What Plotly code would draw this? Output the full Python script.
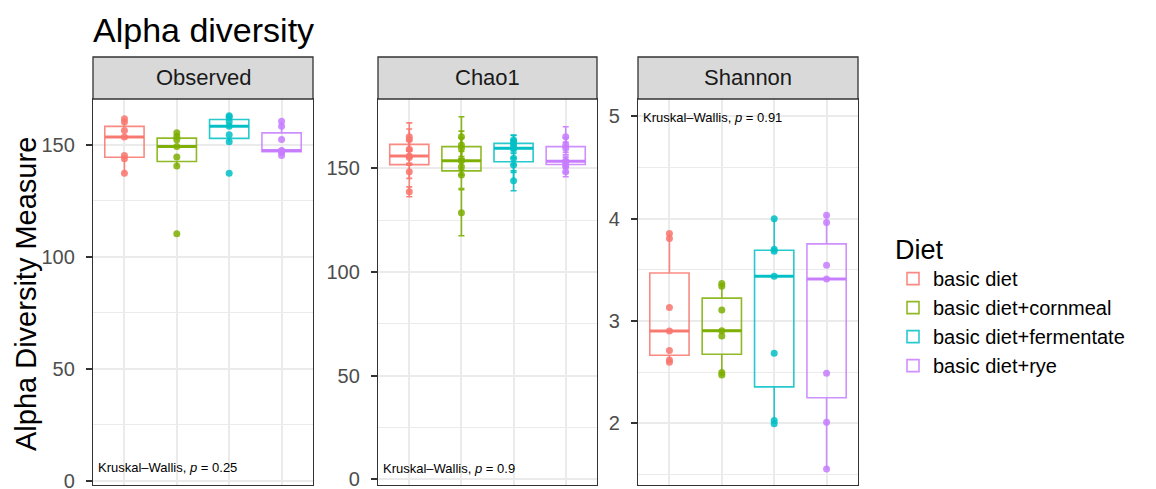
import numpy as np
import plotly.graph_objects as go

W, H = 1156, 489

diets = ["basic diet", "basic diet+cornmeal", "basic diet+fermentate", "basic diet+rye"]
colors = ["#F8766D", "#7CAE00", "#00BFC4", "#C77CFF"]

observed = {
    "basic diet": [161.6, 160.1, 156.3, 153.4, 145.2, 143.7, 137.3],
    "basic diet+cornmeal": [155.3, 153.7, 152.2, 149.2, 144.5, 140.5, 110.3],
    "basic diet+fermentate": [162.9, 162.3, 160.2, 158.3, 154.4, 151.3, 137.3],
    "basic diet+rye": [160.5, 158.3, 152.3, 147.4, 147.1, 146.7, 145.2],
}
chao1 = {
    "basic diet": [165.3, 164.0, 159.2, 156.0, 155.3, 148.4, 138.7],
    "basic diet+cornmeal": [165.3, 161.3, 159.7, 153.7, 150.8, 146.8, 128.6],
    "basic diet+fermentate": [163.7, 162.9, 161.3, 159.7, 154.9, 151.6, 144.0],
    "basic diet+rye": [165.3, 161.3, 159.7, 153.5, 152.7, 151.1, 148.4],
}
chao1_se = {
    "basic diet": [6.7, 5.0, 4.0, 3.5, 3.0, 3.2, 2.4],
    "basic diet+cornmeal": [9.6, 6.7, 5.0, 4.5, 4.0, 6.5, 11.1],
    "basic diet+fermentate": [2.4, 3.0, 2.5, 2.5, 3.0, 3.5, 4.8],
    "basic diet+rye": [4.8, 3.5, 3.0, 2.5, 2.5, 3.0, 2.4],
}
shannon = {
    "basic diet": [3.855, 3.806, 3.133, 2.902, 2.711, 2.620, 2.597],
    "basic diet+cornmeal": [3.367, 3.341, 3.107, 2.906, 2.854, 2.496, 2.473],
    "basic diet+fermentate": [4.000, 3.702, 3.683, 3.439, 2.685, 2.028, 1.995],
    "basic diet+rye": [4.034, 3.963, 3.546, 3.410, 2.489, 2.011, 1.553],
}

panels = ["Observed", "Chao1", "Shannon"]
pvalues = ["0.25", "0.9", "0.91"]
y_ticks = [[0, 50, 100, 150], [0, 50, 100, 150], [2, 3, 4, 5]]
y_minor = [[25, 75, 125], [25, 75, 125], [1.5, 2.5, 3.5, 4.5]]
y_ranges = [[-1.78, 170.4], [-2.75, 183.5], [1.397, 5.171]]
label_pos = [0.046, 0.044, 0.953]

# pixel layout of panels
px_x = [(93, 313), (378, 597), (638, 858)]
plot_top, plot_bot = 99, 485
strip_top = 57


def rgba(hexc, a):
    h = hexc.lstrip("#")
    r, g, b = int(h[0:2], 16), int(h[2:4], 16), int(h[4:6], 16)
    return f"rgba({r},{g},{b},{a})"


def stats(vals):
    v = np.array(vals, dtype=float)
    q1, med, q3 = np.percentile(v, [25, 50, 75])
    iqr = q3 - q1
    lo = v[v >= q1 - 1.5 * iqr].min()
    hi = v[v <= q3 + 1.5 * iqr].max()
    return q1, med, q3, lo, hi


fig = go.Figure()
datasets = [observed, chao1, shannon]
bw = 0.75
for p, data in enumerate(datasets):
    xa = "x" if p == 0 else f"x{p+1}"
    ya = "y" if p == 0 else f"y{p+1}"
    for i, d in enumerate(diets):
        xi = i + 1
        vals = data[d]
        q1, med, q3, lo, hi = stats(vals)
        col = colors[i]
        fig.add_trace(go.Box(
            x=[xi], q1=[q1], median=[med], q3=[q3], lowerfence=[lo], upperfence=[hi],
            width=bw, whiskerwidth=0, boxpoints=False,
            line=dict(color=rgba(col, 0.85), width=1.6),
            fillcolor="rgba(255,255,255,0)",
            name=d, legendgroup=d, showlegend=(p == 0),
            xaxis=xa, yaxis=ya, hoverinfo="skip",
        ))
        # thicker median line
        fig.add_trace(go.Scatter(
            x=[xi - bw / 2, xi + bw / 2], y=[med, med], mode="lines",
            line=dict(color=rgba(col, 0.95), width=3),
            showlegend=False, legendgroup=d, xaxis=xa, yaxis=ya, hoverinfo="skip",
        ))
        err = None
        if p == 1:
            err = dict(type="data", array=chao1_se[d], visible=True,
                       color=rgba(col, 0.9), thickness=1.6, width=3)
        fig.add_trace(go.Scatter(
            x=[xi] * len(vals), y=vals, mode="markers",
            marker=dict(color=rgba(col, 0.85), size=7),
            error_y=err,
            showlegend=False, legendgroup=d, xaxis=xa, yaxis=ya, hoverinfo="skip",
        ))

annotations = []
shapes = []
axis_common = dict(showline=True, mirror=True, linecolor="#333333", linewidth=1.3,
                   zeroline=False, automargin=False)
for p in range(3):
    x0, x1 = px_x[p]
    dom_x = [x0 / W, x1 / W]
    dom_y = [1 - plot_bot / H, 1 - plot_top / H]
    xkey = "xaxis" if p == 0 else f"xaxis{p+1}"
    ykey = "yaxis" if p == 0 else f"yaxis{p+1}"
    yanchor_name = "y" if p == 0 else f"y{p+1}"
    xanchor_name = "x" if p == 0 else f"x{p+1}"
    fig.update_layout(**{
        xkey: dict(domain=dom_x, range=[0.4, 4.6], tickvals=[1, 2, 3, 4],
                   showticklabels=False, ticks="", showgrid=True,
                   gridcolor="#EBEBEB", gridwidth=2, anchor=yanchor_name,
                   **axis_common),
        ykey: dict(domain=dom_y, range=y_ranges[p], tickvals=y_ticks[p],
                   showgrid=True, gridcolor="#EBEBEB", gridwidth=2,
                   ticks="outside", ticklen=6, tickwidth=1.5, tickcolor="#333333",
                   ticklabelstandoff=7, ticklabeloverflow="allow",
                   tickfont=dict(size=20, color="#4D4D4D"),
                   minor=dict(tickvals=y_minor[p], showgrid=True,
                              gridcolor="#EBEBEB", gridwidth=1, ticks=""),
                   anchor=xanchor_name, **axis_common),
    })
    # strip
    shapes.append(dict(type="rect", xref="paper", yref="paper",
                       x0=x0 / W, x1=x1 / W, y0=1 - plot_top / H, y1=1 - strip_top / H,
                       fillcolor="#D9D9D9", line=dict(color="#333333", width=1.3),
                       layer="above"))
    annotations.append(dict(text=panels[p], xref="paper", yref="paper",
                            x=(x0 + x1) / 2 / W, y=1 - (strip_top + plot_top) / 2 / H,
                            xanchor="center", yanchor="middle", showarrow=False,
                            font=dict(size=22, color="#1A1A1A")))
    annotations.append(dict(text=f"Kruskal\u2013Wallis, <i>p</i> = {pvalues[p]}",
                            xref=f"{xanchor_name} domain", yref=f"{yanchor_name} domain",
                            x=0.015, y=label_pos[p],
                            xanchor="left", yanchor="middle", showarrow=False,
                            font=dict(size=13, color="black")))

annotations.append(dict(text="Alpha Diversity Measure", xref="paper", yref="paper",
                        x=26 / W, y=1 - 294 / H, textangle=-90, showarrow=False,
                        xanchor="center", yanchor="middle",
                        font=dict(size=29, color="black")))

fig.update_layout(
    width=W, height=H,
    margin=dict(l=0, r=0, t=0, b=0),
    paper_bgcolor="white", plot_bgcolor="white",
    font=dict(family="Liberation Sans, Arial, sans-serif", color="black"),
    title=dict(text="Alpha diversity", x=93 / W, xanchor="left", y=1 - 30 / H,
               yanchor="middle", automargin=False, font=dict(size=34, color="black")),
    legend=dict(title=dict(text="Diet", font=dict(size=27)),
                x=893 / W, y=1 - 224 / H, xanchor="left", yanchor="top",
                font=dict(size=20), tracegroupgap=0, bgcolor="rgba(0,0,0,0)"),
    annotations=annotations, shapes=shapes,
)

fig.write_html("out.html")
